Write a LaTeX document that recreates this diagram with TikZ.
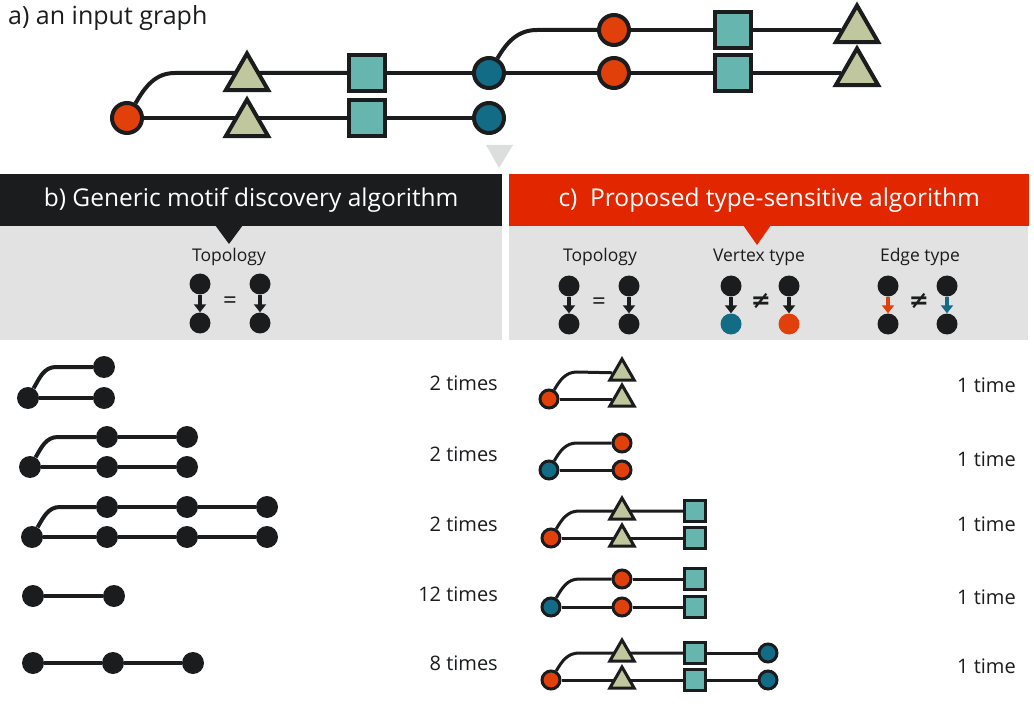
\documentclass[tikz,border=0pt]{standalone}
\usepackage{fontspec}
\setmainfont{Open Sans}
\newfontfamily\symfont{DejaVu Sans}
\usetikzlibrary{arrows.meta,positioning,shapes.geometric,backgrounds}
\definecolor{MotifInk}{HTML}{1B1C1E}
\definecolor{MotifRed}{HTML}{E2400A}
\definecolor{MotifBlue}{HTML}{136C86}
\definecolor{MotifTeal}{HTML}{66B5AE}
\definecolor{MotifOlive}{HTML}{C0C79E}
\definecolor{MotifHead}{HTML}{E12600}
\definecolor{MotifPanel}{HTML}{E1E2E1}
\definecolor{MotifPoint}{HTML}{DCDEDD}

\begin{document}
\begin{tikzpicture}[x=1pt,y=1pt,>=Latex]
  \tikzset{
    bigdot/.style={circle, draw=MotifInk, line width=4pt, minimum size=30pt, inner sep=0pt},
    bigsq/.style={rectangle, draw=MotifInk, fill=MotifTeal, line width=4pt, minimum size=36pt, inner sep=0pt},
    bigtri/.style={regular polygon, regular polygon sides=3, draw=MotifInk, fill=MotifOlive, line width=4pt, minimum size=49pt, inner sep=0pt},
    bigedge/.style={draw=MotifInk, line width=4pt},
    blackdot/.style={circle, fill=MotifInk, minimum size=22pt, inner sep=0pt},
    smdot/.style={circle, draw=MotifInk, line width=3pt, minimum size=18pt, inner sep=0pt},
    smsq/.style={rectangle, draw=MotifInk, fill=MotifTeal, line width=3pt, minimum size=21pt, inner sep=0pt},
    smtri/.style={regular polygon, regular polygon sides=3, draw=MotifInk, fill=MotifOlive, line width=3pt, minimum size=28pt, inner sep=0pt},
    smedge/.style={draw=MotifInk, line width=3pt},
    headbar/.style={anchor=north west, minimum height=52pt, inner sep=0pt, text=white, font=\fontsize{24.5}{28}\selectfont},
    icondot/.style={circle, fill=MotifInk, minimum size=21pt, inner sep=0pt},
    iconarrow/.style={line width=4.5pt, -{Triangle[width=12pt,length=8pt]}},
    iconlabel/.style={font=\fontsize{17.5}{20}\selectfont, text=MotifInk, inner sep=0pt},
    count/.style={anchor=east, font=\fontsize{20}{24}\selectfont, text=MotifInk, inner sep=0pt}
  }
  \useasboundingbox (0,0) rectangle (1034,-714);

  % a) input graph
  \node[anchor=base west, inner sep=0pt, text=MotifInk, font=\fontsize{25}{28}\selectfont] (title) at (8,-25) {a) an input graph};
  \node[bigdot, fill=MotifRed] (c0) at (127,-118) {};
  \node[bigtri] (t1) at (247,-78) {};
  \node[bigtri] (t2) at (247,-124) {};
  \node[bigsq] (s1) at (367,-73) {};
  \node[bigsq] (s2) at (367,-118) {};
  \node[bigdot, fill=MotifBlue] (b1) at (489,-73) {};
  \node[bigdot, fill=MotifBlue] (b2) at (489,-118) {};
  \node[bigdot, fill=MotifRed] (r1) at (614,-30) {};
  \node[bigdot, fill=MotifRed] (r2) at (614,-73) {};
  \node[bigsq] (s3) at (733,-30) {};
  \node[bigsq] (s4) at (733,-73) {};
  \node[bigtri] (t3) at (857,-30) {};
  \node[bigtri] (t4) at (857,-73) {};
  \coordinate (k0) at (175,-73);
  \coordinate (k1) at (537,-30);
  \begin{scope}[on background layer]
    \draw[bigedge] (c0) to[out=60,in=180] (k0) -- (s1);
    \draw[bigedge] (b1) to[out=60,in=180] (k1) -- (r1);
    \foreach \a/\b in {c0/s2,s1/b1,s2/b2,b1/r2,r1/s3,r2/s4,s3/t3,s4/t4}{\draw[bigedge] (\a) -- (\b);}
  \end{scope}
  \fill[MotifPoint] (486,-145) -- (513,-145) -- (499,-168) -- cycle;

  % b) and c) headers
  \fill[MotifPanel] (0,-225) rectangle (502,-340);
  \fill[MotifPanel] (509,-225) rectangle (1028,-340);
  \node[headbar, fill=MotifInk, minimum width=502pt] (hb) at (0,-174) {\raisebox{-2pt}{b) Generic motif discovery algorithm}};
  \node[headbar, fill=MotifHead, minimum width=520pt] (hc) at (509,-174) {\raisebox{-2pt}{c)\ \ Proposed type-sensitive algorithm}};
  \fill[MotifInk] (215,-225) -- (243,-225) -- (229,-244) -- cycle;
  \fill[MotifHead] (743,-225) -- (771,-225) -- (757,-245) -- cycle;

  % b) legend
  \node[iconlabel] (lb) at (229,-257) {Topology};
  \node[icondot] (ba1) at (200,-284) {};
  \node[icondot] (ba2) at (200,-323) {};
  \node[icondot] (bb1) at (260,-284) {};
  \node[icondot] (bb2) at (260,-323) {};
  \node[iconlabel, font=\fontsize{24}{26}\selectfont] (beq) at (230,-303) {=};

  % c) legend
  \node[iconlabel] (lc1) at (600,-257) {Topology};
  \node[iconlabel] (lc2) at (759,-257) {Vertex type};
  \node[iconlabel] (lc3) at (920,-257) {Edge type};
  \node[icondot] (ca1) at (569,-286) {};
  \node[icondot] (ca2) at (569,-324) {};
  \node[icondot] (cb1) at (629,-286) {};
  \node[icondot] (cb2) at (629,-324) {};
  \node[icondot] (va1) at (731,-286) {};
  \node[icondot, fill=MotifBlue] (va2) at (731,-324) {};
  \node[icondot] (vb1) at (789,-286) {};
  \node[icondot, fill=MotifRed] (vb2) at (789,-324) {};
  \node[icondot] (ea1) at (888,-286) {};
  \node[icondot] (ea2) at (888,-324) {};
  \node[icondot] (eb1) at (947,-286) {};
  \node[icondot] (eb2) at (947,-324) {};
  \node[iconlabel, font=\fontsize{24}{26}\selectfont] (ceq) at (599,-304) {=};
  \node[iconlabel, font=\symfont\bfseries\fontsize{24}{26}\selectfont] (vneq) at (761,-301) {≠};
  \node[iconlabel, font=\symfont\bfseries\fontsize{24}{26}\selectfont] (eneq) at (919,-301) {≠};
  \foreach \a/\b in {ba1/ba2,bb1/bb2,ca1/ca2,cb1/cb2,va1/va2,vb1/vb2}{\draw[iconarrow, MotifInk] (\a) -- (\b);}
  \draw[iconarrow, MotifRed] (ea1) -- (ea2);
  \draw[iconarrow, MotifBlue] (eb1) -- (eb2);

  % b) motifs
  \node[blackdot] (p1a) at (28,-398) {};
  \node[blackdot] (p1b) at (104,-367) {};
  \node[blackdot] (p1c) at (104,-398) {};
  \coordinate (p1k) at (56,-367);
  \node[blackdot] (p2a) at (30,-467) {};
  \node[blackdot] (p2b) at (107,-437) {};
  \node[blackdot] (p2c) at (187,-437) {};
  \node[blackdot] (p2d) at (107,-467) {};
  \node[blackdot] (p2e) at (187,-467) {};
  \coordinate (p2k) at (58,-437);
  \node[blackdot] (p3a) at (32,-537) {};
  \node[blackdot] (p3b) at (107,-507) {};
  \node[blackdot] (p3c) at (187,-507) {};
  \node[blackdot] (p3d) at (267,-507) {};
  \node[blackdot] (p3e) at (107,-537) {};
  \node[blackdot] (p3f) at (187,-537) {};
  \node[blackdot] (p3g) at (267,-537) {};
  \coordinate (p3k) at (60,-507);
  \node[blackdot] (p4a) at (33,-596) {};
  \node[blackdot] (p4b) at (114,-596) {};
  \node[blackdot] (p5a) at (33,-663) {};
  \node[blackdot] (p5b) at (113,-663) {};
  \node[blackdot] (p5c) at (193,-663) {};
  \begin{scope}[on background layer]
    \draw[bigedge] (p1a) to[out=60,in=180] (p1k) -- (p1b);
    \draw[bigedge] (p2a) to[out=60,in=180] (p2k) -- (p2b);
    \draw[bigedge] (p3a) to[out=60,in=180] (p3k) -- (p3b);
    \foreach \a/\b in {p1a/p1c,p2a/p2d,p2b/p2c,p2d/p2e,p3a/p3e,p3b/p3c,p3c/p3d,p3e/p3f,p3f/p3g,p4a/p4b,p5a/p5b,p5b/p5c}{\draw[bigedge] (\a) -- (\b);}
  \end{scope}
  \node[count] (n1) at (498,-383) {2 times};
  \node[count] (n2) at (498,-454) {2 times};
  \node[count] (n3) at (498,-524) {2 times};
  \node[count] (n4) at (498,-594) {12 times};
  \node[count] (n5) at (498,-663) {8 times};

  % c) motifs
  \node[smdot, fill=MotifRed] (q1a) at (549,-399) {};
  \node[smtri] (q1b) at (622,-373) {};
  \node[smtri] (q1c) at (622,-399) {};
  \coordinate (q1k) at (577,-372);
  \node[smdot, fill=MotifBlue] (q2a) at (549,-470) {};
  \node[smdot, fill=MotifRed] (q2b) at (622,-443) {};
  \node[smdot, fill=MotifRed] (q2c) at (622,-470) {};
  \coordinate (q2k) at (577,-443);
  \node[smdot, fill=MotifRed] (q3a) at (551,-538) {};
  \node[smtri] (q3b) at (622,-512) {};
  \node[smtri] (q3c) at (622,-539) {};
  \node[smsq] (q3d) at (695,-511) {};
  \node[smsq] (q3e) at (695,-538) {};
  \coordinate (q3k) at (579,-511);
  \node[smdot, fill=MotifBlue] (q4a) at (551,-607) {};
  \node[smdot, fill=MotifRed] (q4b) at (622,-579) {};
  \node[smdot, fill=MotifRed] (q4c) at (622,-607) {};
  \node[smsq] (q4d) at (695,-579) {};
  \node[smsq] (q4e) at (695,-607) {};
  \coordinate (q4k) at (579,-579);
  \node[smdot, fill=MotifRed] (q5a) at (551,-680) {};
  \node[smtri] (q5b) at (622,-654) {};
  \node[smtri] (q5c) at (622,-681) {};
  \node[smsq] (q5d) at (695,-653) {};
  \node[smsq] (q5e) at (695,-680) {};
  \node[smdot, fill=MotifBlue] (q5f) at (768,-653) {};
  \node[smdot, fill=MotifBlue] (q5g) at (768,-680) {};
  \coordinate (q5k) at (579,-653);
  \begin{scope}[on background layer]
    \draw[smedge] (q1a) to[out=60,in=180] (q1k) -- (q1b);
    \draw[smedge] (q2a) to[out=60,in=180] (q2k) -- (q2b);
    \draw[smedge] (q3a) to[out=60,in=180] (q3k) -- (q3d);
    \draw[smedge] (q4a) to[out=60,in=180] (q4k) -- (q4b);
    \draw[smedge] (q5a) to[out=60,in=180] (q5k) -- (q5d);
    \foreach \a/\b in {q1a/q1c,q2a/q2c,q3a/q3e,q4a/q4c,q4b/q4d,q4c/q4e,q5a/q5e,q5d/q5f,q5e/q5g}{\draw[smedge] (\a) -- (\b);}
  \end{scope}
  \node[count] (m1) at (1016,-385) {1 time};
  \node[count] (m2) at (1016,-459) {1 time};
  \node[count] (m3) at (1016,-524) {1 time};
  \node[count] (m4) at (1016,-597) {1 time};
  \node[count] (m5) at (1016,-666) {1 time};
\end{tikzpicture}
\end{document}
